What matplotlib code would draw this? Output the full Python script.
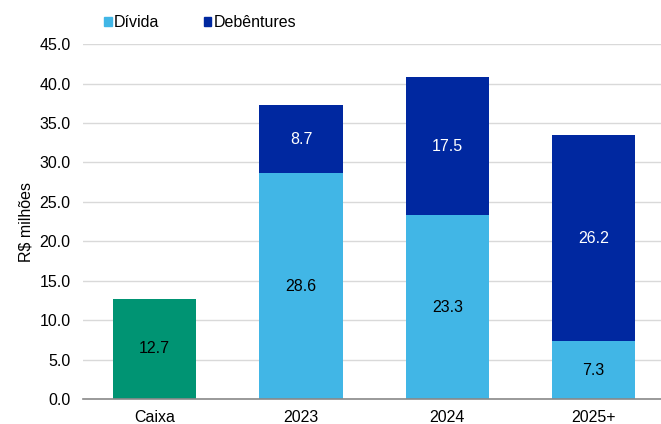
import numpy as np
import matplotlib.pyplot as plt
from matplotlib.patches import Patch

plt.rcParams['font.family'] = ['Liberation Sans Narrow', 'Liberation Sans', 'DejaVu Sans']

categories = ['Caixa', '2023', '2024', '2025+']
caixa = [12.7, 0, 0, 0]
divida = [0, 28.6, 23.3, 7.3]
debentures = [0, 8.7, 17.5, 26.2]
yticks = [0, 5, 10, 15, 20, 25, 30, 35, 40, 45]

c_caixa = '#009473'
c_div = '#41B6E6'
c_deb = '#0028A0'

fig = plt.figure(figsize=(6.61, 4.24), dpi=100)
ax = fig.add_axes([0.1256, 0.059, 0.8744, 0.837])
x = np.arange(len(categories))
w = 0.57

ax.bar(x[:1], caixa[:1], w, color=c_caixa)
ax.bar(x[1:], divida[1:], w, color=c_div)
ax.bar(x[1:], debentures[1:], w, bottom=divida[1:], color=c_deb)

# value labels
fs = 11.5
ax.text(x[0], caixa[0] / 2, f'{caixa[0]:.1f}', ha='center', va='center', fontsize=fs, color='black')
for i in range(1, len(categories)):
    ax.text(x[i], divida[i] / 2, f'{divida[i]:.1f}', ha='center', va='center', fontsize=fs, color='black')
    ax.text(x[i], divida[i] + debentures[i] / 2, f'{debentures[i]:.1f}', ha='center', va='center',
            fontsize=fs, color='white')

ax.set_ylim(0, 45)
ax.set_xlim(-0.49, 3.46)
ax.set_yticks(yticks)
ax.set_yticklabels([f'{v:.1f}' for v in yticks], fontsize=fs)
ax.set_xticks(x)
ax.set_xticklabels(categories, fontsize=fs)
ax.tick_params(axis='both', length=0)
ax.tick_params(axis='y', pad=9)
ax.tick_params(axis='x', pad=8)
ax.grid(axis='y', color='#d9d9d9', linewidth=1)
ax.set_axisbelow(True)
for s in ['top', 'right', 'left']:
    ax.spines[s].set_visible(False)
ax.spines['bottom'].set_color('#898989')
ax.spines['bottom'].set_linewidth(1.2)
ax.set_ylabel('R$ milhões', fontsize=fs)
ax.yaxis.set_label_coords(-0.085, 0.5)

handles = [Patch(color=c_div, label='Dívida'), Patch(color=c_deb, label='Debêntures')]
fig.legend(handles=handles, loc='center left', bbox_to_anchor=(0.146, 0.946), ncol=2, frameon=False,
           fontsize=fs, handlelength=0.45, handleheight=0.45, handletextpad=0.15, columnspacing=2.8,
           borderpad=0)

plt.savefig('out.png', dpi=100)
